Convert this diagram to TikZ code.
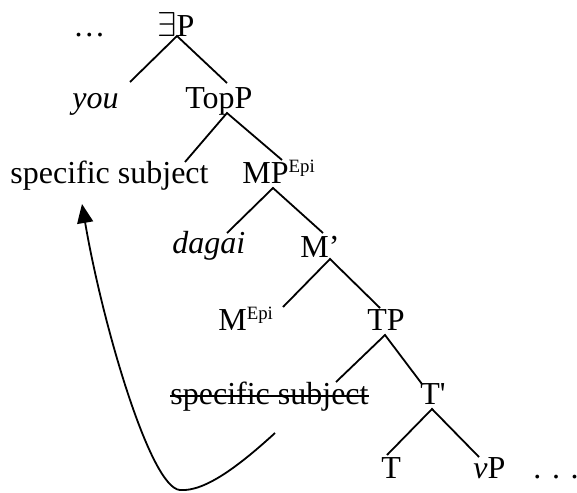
\documentclass[tikz,border=0pt]{standalone}
\usepackage{fontspec}
\setmainfont{Liberation Serif}[Ligatures=TeXOff]
\usetikzlibrary{arrows.meta}
\newcommand{\Epi}{\raisebox{5.5pt}{\fontsize{9.4}{10}\selectfont Epi}}
\begin{document}
\begin{tikzpicture}[x=0.5pt,y=-0.5pt,
  lbl/.style={inner sep=0pt, anchor=base west, font=\fontsize{16}{19}\selectfont},
  br/.style={line width=0.9pt, line cap=butt}]
\useasboundingbox (0,0) rectangle (577,492);
% labels
\node[lbl] (dotsA) at (73,37) {…};
\node[lbl] (EP) at (157,37) {$\exists$P};
\node[lbl] (you) at (72,108) {\itshape you};
\node[lbl] (TopP) at (185,108) {TopP};
\node[lbl] (ssA) at (10,183) {specific subject};
\node[lbl] (MP) at (242,183) {MP\Epi};
\node[lbl] (dagai) at (172,253) {\itshape dagai};
\node[lbl] (Mbar) at (300,257) {M’};
\node[lbl] (Mepi) at (218,330) {M\Epi};
\node[lbl] (TP) at (367,330) {TP};
\node[lbl] (ssB) at (170,404) {specific subject};
\node[lbl] (Tbar) at (420,404) {T'};
\node[lbl] (T) at (381,478) {T};
\node[lbl] (vP) at (473,478) {\textit{v}P};
\node[lbl] (dotsB) at (533,478) {. . .};
% strike-through
\draw[line width=0.8pt] ([yshift=4pt]ssB.base west) -- ([yshift=4pt]ssB.base east);
% branch points
\coordinate (EPa) at (177,36);  \coordinate (EPl) at (130,82);  \coordinate (EPr) at (227,83);
\coordinate (TPa) at (227,113); \coordinate (TPl) at (185,162); \coordinate (TPr) at (282,160);
\coordinate (MPa) at (273,188); \coordinate (MPl) at (227,233); \coordinate (MPr) at (323,233);
\coordinate (Mba) at (330,259); \coordinate (Mbl) at (283,307); \coordinate (Mbr) at (380,308);
\coordinate (TPPa) at (385,335); \coordinate (TPPl) at (336,382); \coordinate (TPPr) at (422,384);
\coordinate (Tba) at (432,409); \coordinate (Tbl) at (387,455); \coordinate (Tbr) at (479,457);
\draw[br] (EPl) -- (EPa) -- (EPr);
\draw[br] (TPl) -- (TPa) -- (TPr);
\draw[br] (MPl) -- (MPa) -- (MPr);
\draw[br] (Mbl) -- (Mba) -- (Mbr);
\draw[br] (TPPl) -- (TPPa) -- (TPPr);
\draw[br] (Tbl) -- (Tba) -- (Tbr);
% movement arrow
\coordinate (mvS) at (275,433);
\coordinate (mvB) at (180,490);
\coordinate (mvT) at (82,204);
\draw[line width=0.9pt, -{Triangle[length=9.5pt,width=8pt]}]
  (mvS) .. controls (240,465) and (205,492) .. (mvB)
        .. controls (150,488) and (102,322) .. (mvT);
\end{tikzpicture}
\end{document}
